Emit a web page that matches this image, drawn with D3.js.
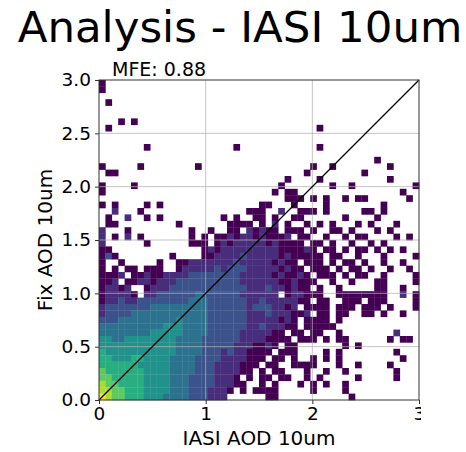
<!DOCTYPE html>
<html>
<head>
<meta charset="utf-8">
<script src="https://cdn.jsdelivr.net/npm/d3@7"></script>
<style>
  body { margin: 0; background: #fff; }
  svg { display: block; }
  text { font-family: "DejaVu Sans", sans-serif; fill: #000; }
</style>
</head>
<body>
<svg id="chart" width="466" height="452"></svg>
<script>
// 2D histogram of Fix AOD vs IASI AOD (10um), 50 x 50 bins of width 0.06.
const binWidth = 0.06;
const xTicks = [0, 1, 2, 3];
const yTicks = [0, 0.5, 1.0, 1.5, 2.0, 2.5, 3.0];
const title = "Analysis - IASI 10um";
const scoreLabel = "MFE: 0.88";
const xLabel = "IASI AOD 10um";
const yLabel = "Fix AOD 10um";

// Binned counts as log-colour levels (1 = single sample ... 9 = densest).
// One string per y-bin, top row (2.94-3.00) first; "." = empty bin, "|" groups 10 x-bins.
const densityRows = [
  "1.........|..........|..........|..........|..........",
  "1.........|..........|..........|..........|..........",
  "..........|..........|..........|..........|..........",
  ".1........|..........|..........|..........|..........",
  "..........|..........|..........|..........|..........",
  "..........|..........|..........|..........|..........",
  "...1.1....|..........|..........|..........|..........",
  ".1........|..........|..........|....1.....|..........",
  "..........|..........|..........|..........|..........",
  "..........|..........|..........|..........|..........",
  ".......1..|..........|.1........|....1.....|..........",
  "..........|..........|..........|..........|..........",
  "..........|..........|..........|..........|...1......",
  "1.....1...|.....1....|..........|...1..1...|.....1....",
  ".11.......|..........|..........|..1.......|.1........",
  "..........|..........|.........1|....1.....|.....1....",
  "1....1....|..........|........1.|......1..1|.........1",
  "1.........|..........|.......1.1|1.........|.......1..",
  "..........|..........|.........1|11.1.1..1.|11......1.",
  "1.1....1.1|..........|.....11...|1....1....|....1.....",
  "..2...1...|..........|...111..2.|.111.1....|.11.1.....",
  ".1..2..1.1|.........1|.1..11.1..|11......1.|...1......",
  ".11.......|..1.......|1111.1.2.1|..1.1.1...|1.1...1...",
  "2...1.....|....1..1..|11.21211.1|11.1..11.1|...1.1....",
  "2.1.2.1...|....1.1.11|2122121112|.11..1..1.|11....1.1.",
  "2......1..|....111.12|1222221211|11.11.1..1|..1.1.....",
  "11........|......1212|2222222211|1121.11.1.|11.1.1.1..",
  "131.......|.1....1122|2232222212|11111.11..|1...1....1",
  "1..1.....1|..11222222|2322222121|1.111.1.11|.1..1..1..",
  "1.1.11.111|..12222232|3332222212|11.111.1.1|1.1..1..1.",
  "1112.11211|2222333333|3322222121|121.111.1.|11..1....1",
  "112.112212|2233333333|3322222211|2111..1..1|...11....1",
  "12212..122|2333333333|3332223221|211.1..1..|...11..1..",
  "122221.223|3333343333|33222222.1|22111..111|11111..2.1",
  "1223223333|3333444333|3332232222|211.11..11|1.111....1",
  "2333333344|4444444333|3332333221|2.1111.111|.111.1...1",
  "2333344444|4444444333|3332223222|112.11.11.|.11.1..1..",
  "3334444444|4454444333|3332222212|1.1111.1..|..........",
  "4444444444|5554444333|3332232221|1.11111...|..........",
  "4444444455|5554444333|332222211.|11.11..1..|......2...",
  "5544555555|5544443333|3322221111|.111.1.11.|.....1.11.",
  "5555555555|5544443333|32221121.1|1.......1.|1.........",
  "6555555555|5544443332|3221111.11|1....1.1..|......1...",
  "6655566555|5444433332|222111.11.|1..1.1.1..|.......1..",
  "6666665555|5444433322|22111.11..|1111...1..|1....1....",
  "7666666555|5444433322|2211.1.11.|..1..1..1.|......1...",
  "7766666555|5444333322|21.1.11.11|..1.1.....|1.....1...",
  "8776666555|5444333322|211..1.1..|.1.1.1..1.|..........",
  "8877666555|5444333222|1.1.1111..|...1....1.|..........",
  "9877666555|4444333222|......11..|.........1|.........."
];

const svg = d3.select("#chart");
const frame = { left: 99, right: 419, top: 80, bottom: 400 };
const x = d3.scaleLinear().domain([0, 3]).range([frame.left, frame.right]);
const y = d3.scaleLinear().domain([0, 3]).range([frame.bottom, frame.top]);
const colour = d3.scaleSequential(d3.interpolateViridis).domain([1, 9]);

// Flatten rows into bin records.
const nRows = densityRows.length;
const bins = [];
densityRows.forEach((row, i) => {
  const cells = row.replace(/\|/g, "");
  const yi = nRows - 1 - i;
  for (let xi = 0; xi < cells.length; xi++) {
    const ch = cells[xi];
    if (ch === ".") continue;
    bins.push({ x0: xi * binWidth, y0: yi * binWidth, level: +ch });
  }
});

// Histogram cells
svg.append("g").selectAll("rect").data(bins).join("rect")
  .attr("x", d => x(d.x0))
  .attr("y", d => y(d.y0 + binWidth))
  .attr("width", d => x(d.x0 + binWidth) - x(d.x0) + 0.3)
  .attr("height", d => y(d.y0) - y(d.y0 + binWidth) + 0.3)
  .attr("fill", d => colour(d.level));

// Grid lines (over the cells)
const grid = svg.append("g").attr("stroke", "#b0b0b0").attr("stroke-width", 1).attr("stroke-opacity", 0.75);
grid.selectAll("line.gx").data(xTicks.slice(1, -1)).join("line")
  .attr("x1", d => x(d)).attr("x2", d => x(d))
  .attr("y1", y(0)).attr("y2", y(3));
grid.selectAll("line.gy").data(yTicks.slice(1, -1)).join("line")
  .attr("y1", d => y(d)).attr("y2", d => y(d))
  .attr("x1", x(0)).attr("x2", x(3));

// 1:1 line
svg.append("line")
  .attr("x1", x(0)).attr("y1", y(0))
  .attr("x2", x(3)).attr("y2", y(3))
  .attr("stroke", "#000").attr("stroke-width", 1.3);

// Frame
svg.append("rect")
  .attr("x", x(0)).attr("y", y(3))
  .attr("width", x(3) - x(0)).attr("height", y(0) - y(3))
  .attr("fill", "none").attr("stroke", "#333").attr("stroke-width", 1);

// Axes; the x-axis labels are cut at the right edge of the panel
svg.append("defs").append("clipPath").attr("id", "xclip")
  .append("rect").attr("x", 0).attr("y", -10).attr("width", 421).attr("height", 60);

const xAxis = svg.append("g")
  .attr("transform", `translate(0,${y(0)})`)
  .attr("clip-path", "url(#xclip)")
  .call(d3.axisBottom(x).tickValues(xTicks).tickFormat(d3.format("d")).tickSize(4).tickPadding(3));
const yAxis = svg.append("g")
  .attr("transform", `translate(${x(0)},0)`)
  .call(d3.axisLeft(y).tickValues(yTicks).tickFormat(d3.format(".1f")).tickSize(4).tickPadding(4));
[xAxis, yAxis].forEach(a => {
  a.select(".domain").remove();
  a.selectAll(".tick line").attr("stroke", "#333");
  a.selectAll(".tick text").attr("font-size", 18.5).attr("font-family", "DejaVu Sans").attr("fill", "#000");
});

// Titles and labels
svg.append("text").attr("x", 240).attr("y", 42).attr("text-anchor", "middle")
  .attr("font-size", 43.5).text(title);
svg.append("text").attr("x", 112).attr("y", 76)
  .attr("font-size", 19).text(scoreLabel);
svg.append("text").attr("x", 259).attr("y", 445).attr("text-anchor", "middle")
  .attr("font-size", 20).text(xLabel);
svg.append("text").attr("transform", `translate(52,240) rotate(-90)`).attr("text-anchor", "middle")
  .attr("font-size", 20).text(yLabel);
</script>
</body>
</html>
